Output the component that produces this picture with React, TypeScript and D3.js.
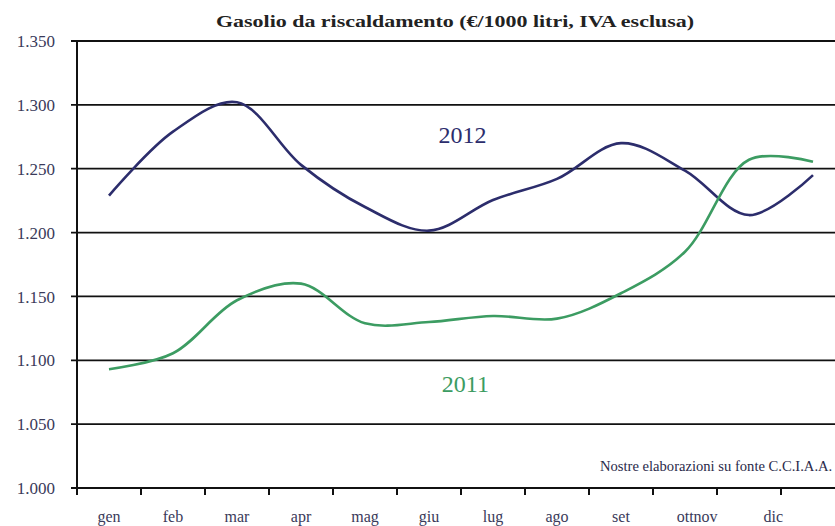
import * as d3 from "d3";

const months = ["gen", "feb", "mar", "apr", "mag", "giu", "lug", "ago", "set", "ott", "nov", "dic"];
const values2012 = [1.229, 1.279, 1.302, 1.253, 1.22, 1.2015, 1.2255, 1.242, 1.27, 1.2485, 1.2137, 1.245];
const values2011 = [1.093, 1.1055, 1.147, 1.16, 1.129, 1.13, 1.1347, 1.1326, 1.1525, 1.185, 1.257, 1.2555];
const yTicks = [1.0, 1.05, 1.1, 1.15, 1.2, 1.25, 1.3, 1.35];
// axis labels as printed (ott/nov run together in the source), placed in month units
const xLabels = ["gen", "feb", "mar", "apr", "mag", "giu", "lug", "ago", "set", "ottnov", "dic"];
const xLabelPos = [0.5, 1.5, 2.5, 3.5, 4.5, 5.5, 6.5, 7.5, 8.5, 9.69, 10.88];

const width = 835;
const height = 526;
const margin = { top: 41, right: -10, bottom: 38, left: 77 };
const innerWidth = width - margin.left - margin.right;
const innerHeight = height - margin.top - margin.bottom;

const navy = "#2c2d6c";
const green = "#3c9c62";
const font = "'Liberation Serif', 'DejaVu Serif', serif";

export default function App() {
  const xIdx = d3.scaleLinear().domain([0, months.length]).range([0, innerWidth]);
  const yScale = d3.scaleLinear().domain([1.0, 1.35]).range([innerHeight, 0]);
  const fmt = d3.format(".3f");

  const line = d3
    .line<number>()
    .x((_, i) => xIdx(i + 0.5))
    .y((d) => yScale(d))
    .curve(d3.curveCatmullRom.alpha(0.5));

  const tickIdx = d3.range(0, months.length + 1);

  return (
    <div style={{ position: "fixed", left: 0, top: 0, width, height, overflow: "hidden", background: "#fff" }}>
      <svg width={width} height={height} style={{ display: "block" }}>
        <text
          x={455}
          y={27}
          textAnchor="middle"
          fontFamily={font}
          fontSize={17}
          fontWeight="bold"
          fill="#222"
          textLength={478}
          lengthAdjust="spacingAndGlyphs"
        >
          Gasolio da riscaldamento (€/1000 litri, IVA esclusa)
        </text>

        <g transform={`translate(${margin.left},${margin.top})`}>
          {yTicks.map((t) => (
            <g key={`y-${t}`} transform={`translate(0,${yScale(t)})`}>
              <line x1={-6} x2={innerWidth} stroke="#111" strokeWidth={1.8} />
              <text x={-22} dy="0.36em" textAnchor="end" fontFamily={font} fontSize={17} fill="#3a3a5a">
                {fmt(t)}
              </text>
            </g>
          ))}

          <line x1={0} x2={0} y1={0} y2={innerHeight + 7} stroke="#111" strokeWidth={2} />

          {tickIdx.map((i) => (
            <line key={`xt-${i}`} x1={xIdx(i)} x2={xIdx(i)} y1={innerHeight} y2={innerHeight + 7} stroke="#111" strokeWidth={2} />
          ))}

          {xLabels.map((lab, i) => (
            <text
              key={`xl-${lab}`}
              x={xIdx(xLabelPos[i])}
              y={innerHeight + 34}
              textAnchor="middle"
              fontFamily={font}
              fontSize={16}
              fill="#3a3a5a"
            >
              {lab}
            </text>
          ))}

          <path d={line(values2012) ?? ""} fill="none" stroke={navy} strokeWidth={2.6} />
          <path d={line(values2011) ?? ""} fill="none" stroke={green} strokeWidth={2.6} />

          <text x={xIdx(5.65)} y={yScale(1.277)} dy="0.35em" fontFamily={font} fontSize={24} fill={navy}>
            2012
          </text>
          <text x={xIdx(5.7)} y={yScale(1.082)} dy="0.35em" fontFamily={font} fontSize={24} fill={green}>
            2011
          </text>

          <text x={523} y={yScale(1.017)} dy="0.35em" fontFamily={font} fontSize={14.6} fill="#2a2a4a">
            Nostre elaborazioni su fonte C.C.I.A.A.
          </text>
        </g>
      </svg>
    </div>
  );
}
